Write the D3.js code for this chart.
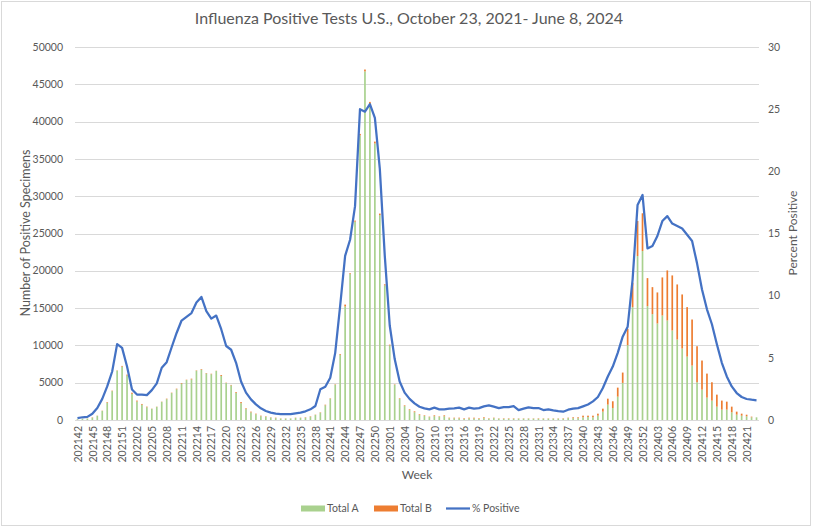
<!DOCTYPE html>
<html><head><meta charset="utf-8">
<script src="https://cdn.jsdelivr.net/npm/d3@7"></script>
<style>body{margin:0;background:#fff}svg{display:block}text{font-family:Lato,"Open Sans",sans-serif;fill:#595959}</style>
</head><body><svg id="c" width="816" height="528"></svg>
<script>
const weeks = ["202142","202143","202144","202145","202146","202147","202148","202149","202150","202151","202152",
"202201","202202","202203","202204","202205","202206","202207","202208","202209","202210","202211","202212","202213","202214","202215","202216","202217","202218","202219","202220","202221","202222","202223","202224","202225","202226","202227","202228","202229","202230","202231","202232","202233","202234","202235","202236","202237","202238","202239","202240","202241","202242","202243","202244","202245","202246","202247","202248","202249","202250","202251","202252",
"202301","202302","202303","202304","202305","202306","202307","202308","202309","202310","202311","202312","202313","202314","202315","202316","202317","202318","202319","202320","202321","202322","202323","202324","202325","202326","202327","202328","202329","202330","202331","202332","202333","202334","202335","202336","202337","202338","202339","202340","202341","202342","202343","202344","202345","202346","202347","202348","202349","202350","202351","202352",
"202401","202402","202403","202404","202405","202406","202407","202408","202409","202410","202411","202412","202413","202414","202415","202416","202417","202418","202419","202420","202421","202422","202423"];

const totalA = [90,140,180,300,550,1220,2320,3870,6610,7150,5960,3510,2480,2050,1710,1490,1760,2430,2790,3610,4120,4880,5350,5440,6600,6750,6250,6140,6570,5910,4960,4640,3650,2250,1460,1020,770,510,430,320,250,190,200,200,270,270,300,430,675,980,1970,2840,4720,8750,15220,19570,26580,38150,46730,42340,37070,27470,18040,10000,4720,2820,1860,1320,1040,660,545,390,505,430,495,230,230,220,140,210,210,140,240,160,250,180,160,160,160,180,180,180,180,160,180,180,180,180,160,250,240,240,360,400,360,580,1120,2060,1610,3130,4970,10030,15130,21980,22650,15260,14190,12940,14010,13340,12000,10790,9580,8500,7300,5060,4070,3000,2600,1790,1390,1390,1030,720,580,490,360,360];

const totalB = [10,10,20,50,30,30,80,60,40,100,120,150,120,100,80,30,30,30,70,50,80,80,50,100,50,80,50,60,30,120,40,60,100,150,100,100,80,70,60,40,60,30,20,20,40,40,60,60,40,50,80,60,60,100,250,100,150,200,250,300,250,200,150,100,60,80,100,110,120,100,80,60,120,60,130,80,80,90,80,100,100,80,120,60,60,40,60,60,60,40,40,40,40,60,40,40,40,40,60,60,120,120,220,180,220,270,400,800,900,1210,1390,2190,3270,4700,5060,3760,3620,4160,5100,6710,7380,7380,7250,6630,6170,4830,3900,3220,2460,1610,1210,1070,760,400,270,220,90,0];

const pctPositive = [0.15,0.22,0.25,0.5,0.97,1.7,2.7,3.9,6.1,5.8,4.3,2.45,2.05,2.05,2.0,2.4,2.95,4.2,4.65,5.85,7.0,8.0,8.3,8.6,9.45,9.9,8.75,8.15,8.4,7.3,5.95,5.65,4.6,3.1,2.2,1.66,1.26,0.94,0.72,0.59,0.51,0.48,0.48,0.48,0.54,0.59,0.7,0.86,1.13,2.47,2.68,3.4,5.4,9.2,13.2,14.5,17.2,25.0,24.8,25.4,24.3,20.2,13.2,7.6,4.9,3.1,2.2,1.7,1.34,1.07,0.94,0.86,0.99,0.86,0.86,0.91,0.94,0.99,0.86,0.99,0.91,0.96,1.1,1.18,1.07,0.96,1.04,1.04,1.12,0.8,0.91,1.02,0.96,0.96,0.8,0.86,0.78,0.72,0.67,0.83,0.91,0.96,1.1,1.25,1.5,1.85,2.57,3.5,4.3,5.4,6.7,7.5,11.3,17.3,18.1,13.8,14.0,14.8,16.0,16.4,15.8,15.6,15.4,14.9,14.4,12.6,10.5,8.9,7.7,6.1,4.6,3.5,2.7,2.17,1.85,1.69,1.63,1.58];

const leftTicks = [0,5000,10000,15000,20000,25000,30000,35000,40000,45000,50000];
const rightTicks = [0,5,10,15,20,25,30];
const seriesNames = ["Total A","Total B","% Positive"];
const colors = {A:"#A9D18E", B:"#ED7D31", line:"#4472C4", grid:"#D9D9D9"};

const svg = d3.select("#c");
const L=75,R=759,T=47,B=420;

svg.append("rect").attr("x",1.5).attr("y",1.5).attr("width",809).attr("height",524)
  .attr("fill","#fff").attr("stroke",colors.grid);

const x = d3.scaleBand().domain(weeks).range([L,R]).paddingInner(0.66).paddingOuter(0.33);
const y0 = d3.scaleLinear().domain([0,50000]).range([B,T]);
const y1 = d3.scaleLinear().domain([0,30]).range([B,T]);
const xc = w => x(w) + x.bandwidth()/2;

svg.append("g").selectAll("line").data(leftTicks).join("line")
  .attr("x1",L).attr("x2",R).attr("y1",d=>Math.round(y0(d))+0.5).attr("y2",d=>Math.round(y0(d))+0.5)
  .attr("stroke",colors.grid).attr("stroke-width",1);

svg.append("g").selectAll("text").data(leftTicks).join("text")
  .attr("x",63).attr("y",d=>y0(d)).attr("dy","0.35em").attr("text-anchor","end")
  .attr("font-size",10.5).text(d=>d);
svg.append("g").selectAll("text").data(rightTicks).join("text")
  .attr("x",768).attr("y",d=>y1(d)).attr("dy","0.35em").attr("text-anchor","start")
  .attr("font-size",10.5).text(d=>d);

const bars = svg.append("g");
weeks.forEach((w,i)=>{
  const a = totalA[i], b = totalB[i];
  bars.append("rect").attr("x",x(w)).attr("width",x.bandwidth())
    .attr("y",y0(a)).attr("height",y0(0)-y0(a)).attr("fill",colors.A);
  if(b>0) bars.append("rect").attr("x",x(w)).attr("width",x.bandwidth())
    .attr("y",y0(a+b)).attr("height",y0(a)-y0(a+b)).attr("fill",colors.B);
});

const line = d3.line().x((d,i)=>xc(weeks[i])).y(d=>y1(d));
svg.append("path").datum(pctPositive).attr("d",line).attr("fill","none")
  .attr("stroke",colors.line).attr("stroke-width",2.25).attr("stroke-linejoin","round");

svg.append("g").selectAll("text").data(weeks.filter((w,i)=>i%3===0)).join("text")
  .attr("transform",w=>`translate(${xc(w)+0.5},426) rotate(-90)`)
  .attr("dy","0.35em").attr("text-anchor","end").attr("font-size",10.5).text(w=>w);

svg.append("text").attr("x",409).attr("y",24).attr("text-anchor","middle")
  .attr("font-size",16).text("Influenza Positive Tests U.S., October 23, 2021- June 8, 2024");
svg.append("text").attr("transform","translate(30,233) rotate(-90)").attr("text-anchor","middle")
  .attr("font-size",12.5).text("Number of Positive Specimens");
svg.append("text").attr("transform","translate(797,233) rotate(-90)").attr("text-anchor","middle")
  .attr("font-size",12).text("Percent Positive");
svg.append("text").attr("x",417).attr("y",479).attr("text-anchor","middle")
  .attr("font-size",12).text("Week");

const lg = svg.append("g");
const items = [{n:seriesNames[0],c:colors.A,t:"rect",x:301},{n:seriesNames[1],c:colors.B,t:"rect",x:374},{n:seriesNames[2],c:colors.line,t:"line",x:446}];
items.forEach(it=>{
  if(it.t==="rect") lg.append("rect").attr("x",it.x).attr("y",505.5).attr("width",24).attr("height",6).attr("fill",it.c);
  else lg.append("line").attr("x1",it.x).attr("x2",it.x+24).attr("y1",508.5).attr("y2",508.5).attr("stroke",it.c).attr("stroke-width",2.25);
  lg.append("text").attr("x",it.x+26).attr("y",508.5).attr("dy","0.35em").attr("font-size",10.5).text(it.n);
});
</script></body></html>
